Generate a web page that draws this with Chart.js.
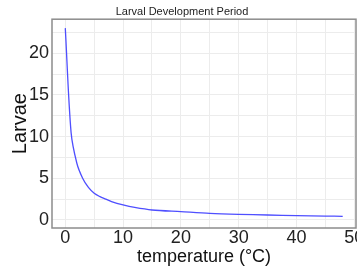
<!DOCTYPE html>
<html>
<head>
<meta charset="utf-8">
<script src="https://cdn.jsdelivr.net/npm/chart.js@4"></script>
<style>
  html, body { margin: 0; padding: 0; background: #fff; }
  #wrap { width: 357px; height: 270px; }
</style>
</head>
<body>
<div id="wrap"><canvas id="LarvalChart"></canvas></div>
<script>
// values
const temperature = [0, 1, 2, 3, 4, 5, 6, 7, 8, 10, 12, 15, 20, 25, 30, 35, 40, 45, 48];
const larvae = [23, 10.5, 6.8, 5.0, 3.9, 3.2, 2.8, 2.5, 2.2, 1.8, 1.5, 1.2, 1.0, 0.8, 0.68, 0.6, 0.53, 0.47, 0.44];
const xGrid = [0, 5, 10, 15, 20, 25, 30, 35, 40, 45, 50];
const yGrid = [0, 2.5, 5, 7.5, 10, 12.5, 15, 17.5, 20, 22.5];

// box around the plot area
const frame = {
    id: 'frame',
    afterDraw(chart) {
        const a = chart.chartArea, ctx = chart.ctx;
        ctx.save();
        ctx.strokeStyle = '#8c8c8c';
        ctx.lineWidth = 1.5;
        ctx.strokeRect(a.left, a.top, a.right - a.left, a.bottom - a.top);
        ctx.restore();
    }
};

new Chart("LarvalChart", {
    type: "scatter",
    data: {
        datasets: [{
            label: "Larvae",
            data: temperature.map((t, i) => ({ x: t, y: larvae[i] })),
            showLine: true,
            borderColor: "rgba(60,60,255,0.9)",
            borderWidth: 1.3,
            pointRadius: 0,
            tension: 0.3,
            fill: false
        }]
    },
    options: {
        animation: false,
        responsive: true,
        maintainAspectRatio: false,
        layout: { padding: { top: 0, right: 1, left: 8, bottom: 2 } },
        plugins: {
            legend: { display: false },
            tooltip: { enabled: false },
            title: {
                display: true,
                text: 'Larval Development Period',
                color: '#222',
                font: { family: 'Liberation Sans, Arial', size: 11, weight: 'normal' },
                padding: { top: 5, bottom: 1 }
            }
        },
        scales: {
            x: {
                type: 'linear',
                min: -2.3,
                max: 50.3,
                afterBuildTicks: s => { s.ticks = xGrid.map(v => ({ value: v })); },
                afterFit: s => { s.paddingRight = 0; s.height = 40; },
                grid: { color: '#ececec', lineWidth: 1, drawTicks: false },
                border: { display: false },
                ticks: {
                    color: '#222',
                    padding: 1,
                    maxRotation: 0,
                    autoSkip: false,
                    font: { family: 'Liberation Sans, Arial', size: 18, lineHeight: 1 },
                    callback: v => (v % 10 === 0 ? v : '')
                },
                title: {
                    display: true,
                    text: 'temperature (°C)',
                    color: '#111',
                    font: { family: 'Liberation Sans, Arial', size: 18, lineHeight: 1 },
                    padding: { top: 0, bottom: 2 }
                }
            },
            y: {
                min: -0.96,
                max: 24.07,
                afterBuildTicks: s => { s.ticks = yGrid.map(v => ({ value: v })); },
                afterFit: s => { s.width = 44; },
                grid: { color: '#ececec', lineWidth: 1, drawTicks: false },
                border: { display: false },
                ticks: {
                    color: '#222',
                    padding: 3,
                    autoSkip: false,
                    font: { family: 'Liberation Sans, Arial', size: 18, lineHeight: 1 },
                    callback: v => (v % 5 === 0 ? v : '')
                },
                title: {
                    display: true,
                    text: 'Larvae',
                    color: '#111',
                    font: { family: 'Liberation Sans, Arial', size: 20, lineHeight: 1 },
                    padding: { top: 2, bottom: 0 }
                }
            }
        }
    },
    plugins: [frame]
});
</script>
</body>
</html>
